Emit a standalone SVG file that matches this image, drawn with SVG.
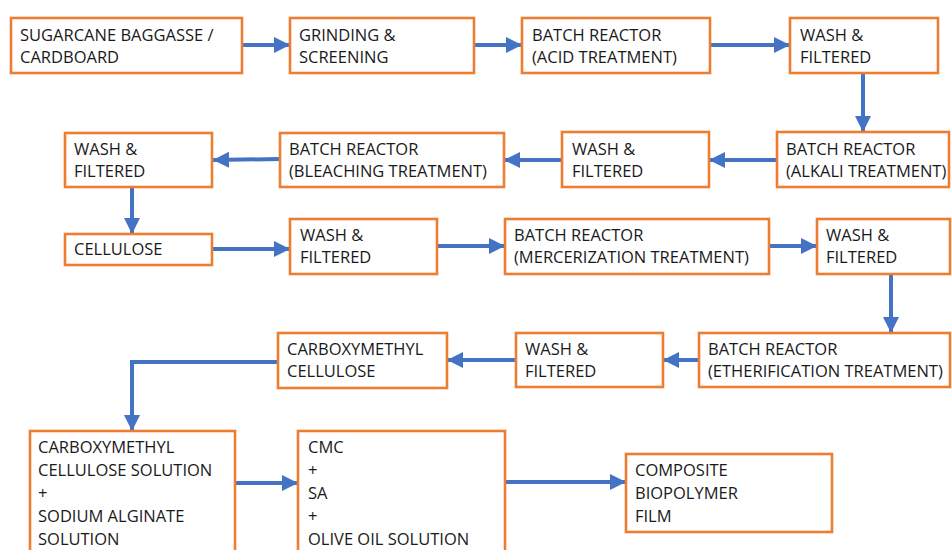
<svg xmlns="http://www.w3.org/2000/svg" width="952" height="550" viewBox="0 0 952 550">
<defs>
<style>
.b{fill:#fff;stroke:#ED7D31;stroke-width:2.6}
.t{font-family:"Open Sans","Liberation Sans",Arial,sans-serif;font-size:16.5px;fill:#1a1a1a}
.c{fill:none;stroke:#4472C4;stroke-width:4}
</style>
<marker id="ah" markerUnits="userSpaceOnUse" markerWidth="16" markerHeight="16" viewBox="0 0 14 14" refX="14" refY="7" orient="auto">
<path d="M0,0 L14,7 L0,14 Z" fill="#4472C4"/>
</marker>
</defs>
<rect width="952" height="550" fill="#fff"/>
<g id="connectors">
<path class="c" d="M242,45 H290" marker-end="url(#ah)"/>
<path class="c" d="M474,45 H522" marker-end="url(#ah)"/>
<path class="c" d="M710,45 H790" marker-end="url(#ah)"/>
<path class="c" d="M863,73 V132" marker-end="url(#ah)"/>
<path class="c" d="M777,160 H709" marker-end="url(#ah)"/>
<path class="c" d="M562,160 H504" marker-end="url(#ah)"/>
<path class="c" d="M280,159 L213,160" marker-end="url(#ah)"/>
<path class="c" d="M132,187 V234" marker-end="url(#ah)"/>
<path class="c" d="M212,249 H290" marker-end="url(#ah)"/>
<path class="c" d="M437,246 H505" marker-end="url(#ah)"/>
<path class="c" d="M769,246 H817" marker-end="url(#ah)"/>
<path class="c" d="M891,274 V333" marker-end="url(#ah)"/>
<path class="c" d="M699,360 H663" marker-end="url(#ah)"/>
<path class="c" d="M516,360 H447" marker-end="url(#ah)"/>
<path class="c" d="M278,362 H132 V431" marker-end="url(#ah)"/>
<path class="c" d="M235,483 H298" marker-end="url(#ah)"/>
<path class="c" d="M505,482 H626" marker-end="url(#ah)"/>
</g>
<g id="n1"><rect class="b" x="11" y="18" width="231" height="55"/><text class="t" x="20" y="41">SUGARCANE BAGGASSE /</text><text class="t" x="20" y="63">CARDBOARD</text></g>
<g id="n2"><rect class="b" x="290" y="18" width="184" height="55"/><text class="t" x="299" y="41">GRINDING &amp;</text><text class="t" x="299" y="63">SCREENING</text></g>
<g id="n3"><rect class="b" x="522" y="18" width="188" height="55"/><text class="t" x="532" y="41">BATCH REACTOR</text><text class="t" x="532" y="63">(ACID TREATMENT)</text></g>
<g id="n4"><rect class="b" x="790" y="18" width="148" height="55"/><text class="t" x="800" y="41">WASH &amp;</text><text class="t" x="800" y="63">FILTERED</text></g>
<g id="n5"><rect class="b" x="777" y="132" width="172" height="55"/><text class="t" x="786" y="155">BATCH REACTOR</text><text class="t" x="786" y="177">(ALKALI TREATMENT)</text></g>
<g id="n6"><rect class="b" x="562" y="132" width="147" height="55"/><text class="t" x="572" y="155">WASH &amp;</text><text class="t" x="572" y="177">FILTERED</text></g>
<g id="n7"><rect class="b" x="280" y="133" width="224" height="54"/><text class="t" x="289" y="155">BATCH REACTOR</text><text class="t" x="289" y="177">(BLEACHING TREATMENT)</text></g>
<g id="n8"><rect class="b" x="65" y="133" width="147" height="54"/><text class="t" x="74" y="155">WASH &amp;</text><text class="t" x="74" y="177">FILTERED</text></g>
<g id="n9"><rect class="b" x="65" y="234" width="147" height="31"/><text class="t" x="74" y="255">CELLULOSE</text></g>
<g id="n10"><rect class="b" x="290" y="219" width="147" height="55"/><text class="t" x="300" y="241">WASH &amp;</text><text class="t" x="300" y="263">FILTERED</text></g>
<g id="n11"><rect class="b" x="505" y="219" width="264" height="55"/><text class="t" x="514" y="241">BATCH REACTOR</text><text class="t" x="514" y="263">(MERCERIZATION TREATMENT)</text></g>
<g id="n12"><rect class="b" x="817" y="219" width="133" height="55"/><text class="t" x="826" y="241">WASH &amp;</text><text class="t" x="826" y="263">FILTERED</text></g>
<g id="n13"><rect class="b" x="699" y="333" width="251" height="54"/><text class="t" x="708" y="355">BATCH REACTOR</text><text class="t" x="708" y="377">(ETHERIFICATION TREATMENT)</text></g>
<g id="n14"><rect class="b" x="516" y="333" width="147" height="54"/><text class="t" x="525" y="355">WASH &amp;</text><text class="t" x="525" y="377">FILTERED</text></g>
<g id="n15"><rect class="b" x="278" y="333" width="169" height="55"/><text class="t" x="287" y="355">CARBOXYMETHYL</text><text class="t" x="287" y="377">CELLULOSE</text></g>
<g id="n16"><rect class="b" x="30" y="431" width="205" height="130"/><text class="t" x="38" y="453">CARBOXYMETHYL</text><text class="t" x="38" y="476">CELLULOSE SOLUTION</text><text class="t" x="38" y="499">+</text><text class="t" x="38" y="522">SODIUM ALGINATE</text><text class="t" x="38" y="545">SOLUTION</text></g>
<g id="n17"><rect class="b" x="298" y="431" width="207" height="130"/><text class="t" x="308" y="453">CMC</text><text class="t" x="308" y="476">+</text><text class="t" x="308" y="499">SA</text><text class="t" x="308" y="522">+</text><text class="t" x="308" y="545">OLIVE OIL SOLUTION</text></g>
<g id="n18"><rect class="b" x="626" y="454" width="206" height="78"/><text class="t" x="635" y="476">COMPOSITE</text><text class="t" x="635" y="499">BIOPOLYMER</text><text class="t" x="635" y="522">FILM</text></g>
</svg>
